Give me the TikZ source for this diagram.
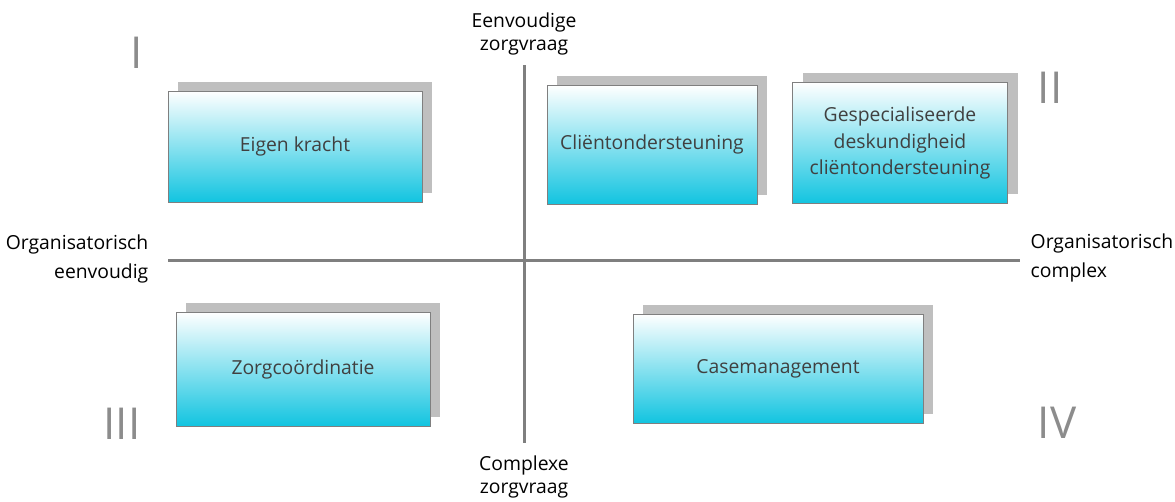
\documentclass[tikz,border=0pt]{standalone}
\usepackage{fontspec}
\setmainfont{Open Sans}
\usepackage{tikz}
\usetikzlibrary{shadows}

\definecolor{axisGray}{HTML}{7F7F7F}
\definecolor{shadowGray}{HTML}{BFBFBF}
\definecolor{boxCyan}{HTML}{12C4E0}
\definecolor{boxText}{HTML}{404040}
\definecolor{numGray}{HTML}{8C8C8C}

\begin{document}
\begin{tikzpicture}[
	x=0.75pt, y=-0.75pt,
	qbox/.style={draw=axisGray, line width=0.6pt, rectangle, top color=white, bottom color=boxCyan,
		text=boxText, align=center, font=\fontsize{14.5}{20}\selectfont,
		copy shadow={shadow xshift=7.5pt, shadow yshift=7pt, fill=shadowGray, draw=none}},
	axis/.style={axisGray, line width=2.25pt},
	axlabel/.style={align=center, font=\fontsize{14.5}{17.5}\selectfont},
	sidelabel/.style={font=\fontsize{14.5}{21.5}\selectfont},
	roman/.style={numGray, font=\fontsize{33}{33}\selectfont}
	]
	
	\useasboundingbox (0,0) rectangle (1175,501);
	
	% Axes
	\coordinate (vtop) at (524,65);
	\coordinate (vbot) at (524,443);
	\coordinate (hleft) at (168,260);
	\coordinate (hright) at (1020,260);
	\draw[axis] (vtop) -- (vbot);
	\draw[axis] (hleft) -- (hright);
	
	\node[axlabel] (eenv) at (524,34) {Eenvoudige\\zorgvraag};
	\node[axlabel] (compl) at (524,477) {Complexe\\zorgvraag};
	\node[sidelabel, align=right, anchor=east] (orgE) at (153,259) {Organisatorisch\\eenvoudig};
	\node[sidelabel, align=left, anchor=west] (orgC) at (1026,258) {Organisatorisch\\complex};
	
	% Quadrant numbers
	\node[roman] (qI) at (137,53) {I};
	\node[roman] (qII) at (1050,88) {II};
	\node[roman] (qIII) at (122,424) {III};
	\node[roman] (qIV) at (1057,423) {IV};
	
	% Boxes
	\node[qbox, minimum width=190.5pt, minimum height=83.25pt] (eigen) at (295,146.5) {Eigen kracht};
	\node[qbox, minimum width=157.5pt, minimum height=89.25pt] (client) at (652,144.5) {Cliëntondersteuning};
	\node[qbox, minimum width=161.25pt, minimum height=90.75pt] (gesp) at (900,143) {Gespecialiseerde\\deskundigheid\\cliëntondersteuning};
	\node[qbox, minimum width=190.5pt, minimum height=85.5pt] (zorg) at (303,369) {Zorgcoördinatie};
	\node[qbox, minimum width=217.5pt, minimum height=81.75pt] (case) at (778,368.5) {Casemanagement};
\end{tikzpicture}
\end{document}
